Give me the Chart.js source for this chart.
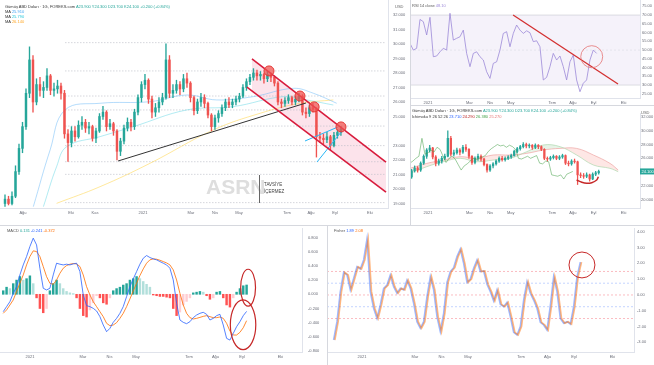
<!DOCTYPE html>
<html>
<head>
<meta charset="utf-8">
<title>Gümüş ABD Doları</title>
<script src="https://cdn.jsdelivr.net/npm/chart.js@4.4.1/dist/chart.umd.min.js"></script>
<style>
body { margin: 0; background: #fff; font-family: "Liberation Sans", Arial, sans-serif; }
#wrap { position: relative; width: 654px; height: 365px; overflow: hidden; background: #fff; }
.panel { position: absolute; overflow: hidden; }
.panel canvas { position: absolute; left: 0; top: 0; }
.leg { position: absolute; font-size: 4px; line-height: 5px; color: #333; white-space: nowrap; }
.sep { position: absolute; background: #d6d8de; }
</style>
</head>
<body>
<div id="wrap">
  <div class="panel" style="left:0;top:0;width:410px;height:225px">
    <canvas id="mainChart" width="410" height="225"></canvas>
    <div class="leg" style="left:5px;top:3.5px">Gümüş ABD Doları · 1G, FOREKS.com <span style="color:#26a69a">A23.900 Y24.300 D23.700 K24.100 +0.200 (+0.84%)</span></div>
    <div class="leg" style="left:5px;top:9px">MA <span id="maA" style="color:#42a5f5"></span></div>
    <div class="leg" style="left:5px;top:14px">MA <span id="maB" style="color:#26c6da"></span></div>
    <div class="leg" style="left:5px;top:19px">MA <span id="maC" style="color:#ffa726"></span></div>
    <div class="leg" style="left:395px;top:4px;color:#666">USD</div>
    <div class="leg" style="left:206px;top:174px;font-size:21px;line-height:26px;font-weight:bold;color:#dedede">ASRN</div>
    <div class="sep" style="left:259px;top:175px;width:1px;height:28px;background:#666"></div>
    <div class="leg" style="left:264px;top:181px;font-size:4.5px;line-height:7px;color:#444">TAVSİYE<br>İÇERMEZ</div>
  </div>
  <div class="panel" style="left:410px;top:0;width:244px;height:105px">
    <canvas id="rsiChart" width="244" height="105"></canvas>
    <div class="leg" style="left:2px;top:3px;color:#555">RSI 14 close <span style="color:#9c89d8">48.10</span></div>
  </div>
  <div class="panel" style="left:410px;top:105px;width:244px;height:120px">
    <canvas id="ichiChart" width="244" height="120"></canvas>
    <div class="leg" style="left:2px;top:3px">Gümüş ABD Doları · 1G, FOREKS.com <span style="color:#26a69a">A23.900 Y24.300 D23.700 K24.100 +0.200 (+0.84%)</span></div>
    <div class="leg" style="left:2px;top:9px">Ichimoku 9 26 52 26 <span style="color:#2962ff">23.710</span> <span style="color:#b71c1c">24.290</span> <span style="color:#43a047">26.380</span> <span style="color:#e57373">25.270</span></div>
    <div class="leg" style="left:231px;top:5px;color:#666">USD</div>
  </div>
  <div class="panel" style="left:0;top:225px;width:327px;height:140px">
    <canvas id="macdChart" width="327" height="140"></canvas>
    <div class="leg" style="left:7px;top:3px;color:#555">MACD <span style="color:#26a69a">0.131</span> <span style="color:#2962ff">-0.241</span> <span style="color:#ff6d00">-0.372</span></div>
  </div>
  <div class="panel" style="left:327px;top:225px;width:327px;height:140px">
    <canvas id="fisherChart" width="327" height="140"></canvas>
    <div class="leg" style="left:7px;top:3px;color:#555">Fisher <span style="color:#2962ff">1.89</span> <span style="color:#ff6d00">2.08</span></div>
  </div>
  <div class="sep" style="left:410px;top:0;width:1px;height:225px"></div>
  <div class="sep" style="left:0;top:225px;width:654px;height:1px"></div>
  <div class="sep" style="left:410px;top:105px;width:244px;height:1px"></div>
  <div class="sep" style="left:327px;top:225px;width:1px;height:140px"></div>
</div>
<script>
// time axis is in months counted from Jan 2020 (12 = Jan 2021)
var monthTicks = [7, 9, 10, 12, 14, 15, 16, 18, 19, 20, 21.45];
var monthNames = ['Ağu', 'Eki', 'Kas', '2021', 'Mar', 'Nis', 'May', 'Tem', 'Ağu', 'Eyl', 'Eki'];

// daily silver candles, sampled about every 3 trading days
var priceStart = 6.25;
var priceStep = 0.1458;
var opens = [19.0,19.3,19.0,19.5,21.2,22.8,24.3,26.6,28.9,26.0, 27.2,26.8,27.0,27.8,26.8,26.9,27.1,26.6,23.8,23.2,
  24.0,23.6,24.4,24.6,24.2,24.3,23.5,24.0,25.0,25.3, 24.3,24.5,24.0,22.6,23.3,24.2,24.6,24.3,25.3,26.3,
  27.2,27.5,26.2,25.3,25.6,26.0,26.3,28.9,26.6,26.8, 27.2,26.9,27.6,27.3,26.3,25.4,26.0,26.3,25.9,25.1,
  24.3,24.9,25.2,25.6,26.0,25.8,26.0,26.2,26.4,27.0, 27.4,27.7,28.0,27.8,27.9,27.6,27.9,27.7,27.3,26.0,
  25.9,26.1,26.3,26.0,26.2,26.4,25.3,25.2,25.6,25.5, 23.6,23.5,23.4,23.6,23.0,23.7,23.9];
var highs = [19.6,19.5,19.8,21.6,23.1,24.6,26.9,29.8,29.2,27.6, 27.7,27.4,28.3,27.9,27.3,27.5,27.3,26.8,24.1,24.3,
  24.3,24.7,25.0,24.8,24.6,24.4,24.2,25.2,25.7,25.4, 24.8,24.6,24.1,23.5,24.4,24.9,24.8,25.5,26.5,27.4,
  27.9,27.6,26.4,25.9,26.3,26.6,30.0,29.2,27.2,27.5, 27.4,27.9,28.0,27.4,26.4,26.2,26.6,26.5,26.0,25.2,
  25.1,25.4,25.8,26.2,26.3,26.2,26.4,26.6,27.2,27.6, 27.9,28.3,28.2,28.1,28.0,28.1,28.0,27.8,27.4,26.2,
  26.3,26.5,26.4,26.4,26.6,26.5,25.6,25.8,25.9,25.6, 23.9,23.8,23.9,23.7,23.9,24.1,24.3];
var lows = [18.8,18.9,18.9,19.4,21.0,22.5,24.1,26.3,25.3,25.8, 26.4,26.3,26.8,26.5,26.4,26.6,26.2,23.5,21.9,22.9,
  23.3,23.5,24.1,23.9,23.8,23.3,23.2,23.9,24.8,24.0, 24.1,23.7,22.0,22.3,23.1,24.0,24.0,24.1,25.1,26.0,
  26.9,25.9,24.9,25.0,25.3,25.8,26.2,26.3,26.3,26.6, 26.5,26.7,27.0,26.0,25.1,25.2,25.7,25.6,24.9,24.0,
  24.1,24.6,25.0,25.4,25.6,25.6,25.8,26.0,26.3,26.8, 27.2,27.5,27.5,27.5,27.3,27.4,27.4,27.1,25.8,25.6,
  25.7,25.9,25.8,25.8,26.0,25.1,24.9,25.0,25.3,22.2, 23.2,23.1,23.2,22.7,22.9,23.5,23.7];
var closes = [19.3,19.0,19.5,21.2,22.8,24.3,26.6,28.9,26.0,27.2, 26.8,27.0,27.8,26.8,26.9,27.1,26.6,23.8,23.2,24.0,
  23.6,24.4,24.6,24.2,24.3,23.5,24.0,25.0,25.3,24.3, 24.5,24.0,22.6,23.3,24.2,24.6,24.3,25.3,26.3,27.2,
  27.5,26.2,25.3,25.6,26.0,26.3,28.9,26.6,26.8,27.2, 26.9,27.6,27.3,26.3,25.4,26.0,26.3,25.9,25.1,24.3,
  24.9,25.2,25.6,26.0,25.8,26.0,26.2,26.4,27.0,27.4, 27.7,28.0,27.8,27.9,27.6,27.9,27.7,27.3,26.0,25.9,
  26.1,26.3,26.0,26.2,26.4,25.3,25.2,25.6,25.5,23.6, 23.5,23.4,23.6,23.0,23.7,23.9,24.1];

// moving averages, read at a few points
var maAMonths = [7.43, 8.13, 8.75, 10.21, 12.29, 13.82, 15.07, 16.6, 18.26, 19.1, 20.07];
var maAValues = [18.78, 22.69, 25.45, 25.91, 26.02, 26.48, 26.14, 26.37, 26.94, 26.6, 25.91];
var maBMonths = [7.85, 8.40, 8.82, 10.21, 11.60, 13.82, 15.76, 17.85, 18.82, 19.93];
var maBValues = [18.78, 21.54, 22.92, 23.61, 24.30, 25.45, 25.68, 26.37, 26.14, 25.79];
var maCMonths = [8.40, 10.21, 12.29, 14.93, 16.88, 18.54, 19.93];
var maCValues = [19.01, 20.16, 21.77, 24.07, 25.22, 25.91, 26.14];

// drawings on the price chart
var trendMonths = [10.96, 18.79];
var trendValues = [21.93, 25.93];
var chanUpMonths = [16.54, 22.125];
var chanUpValues = [28.97, 21.86];
var chanLowMonths = [16.33, 22.125];
var chanLowValues = [27.03, 19.79];
var wedgeUpMonths = [18.75, 20.13];
var wedgeUpValues = [23.31, 24.28];
var wedgeLowMonths = [19.25, 20.29];
var wedgeLowValues = [21.86, 24.0];
var touchMonths = [17.25, 18.54, 19.13, 20.25];
var touchValues = [28.14, 26.41, 25.66, 24.28];
var levels = [30.09, 28.14, 26.41, 25.45, 24.34, 22.99, 21.88, 21.01, 19.06];
var levelFrom = 8.75;
var levelTo = 22.08;
var priceTicks = [19, 20, 21, 22, 23, 25, 26, 27, 28, 29, 30, 31, 32];

// RSI
var rsiStart = 11.13;
var rsiStep = 0.161;
var rsiValues = [53.8, 50.0, 51.0, 67.5, 66.2, 58.6, 68.7, 46.2, 46.6, 49.0,
  51.0, 50.0, 71.0, 55.7, 56.7, 57.6, 61.4, 48.1, 40.5, 48.1,
  49.0, 46.2, 44.3, 37.6, 33.8, 42.4, 43.3, 50.0, 59.5, 60.5,
  51.9, 59.5, 64.3, 61.4, 59.5, 61.0, 59.9, 54.8, 55.3, 51.9,
  32.9, 34.4, 40.5, 48.1, 44.3, 46.6, 40.5, 32.9, 43.3, 47.1,
  32.9, 26.2, 31.0, 32.9, 44.3, 50.0, 48.1];
var rsiLineMonths = [16.11, 21.18];
var rsiLineValues = [70, 30.6];
var rsiTicks = [25, 30, 35, 40, 45, 50, 55, 60, 65, 70, 75];

// Ichimoku cloud
var ichiMonths = [11.13, 11.94, 12.74, 13.55, 14.35, 15.15, 15.96, 16.77, 17.57, 18.38, 19.18, 19.99, 20.79, 21.19];
var spanA = [23.82, 24.79, 25.51, 26.0, 25.51, 25.75, 26.0, 26.96, 27.93, 27.69, 26.48, 25.03, 24.55, 24.06];
var spanB = [24.55, 25.27, 25.75, 26.24, 26.0, 26.48, 26.48, 26.72, 27.2, 27.44, 27.44, 26.48, 25.27, 24.3];
var chikouShift = 1.25;
var arcMonths = [19.18, 19.43, 19.67, 19.91, 20.15, 20.23];
var arcValues = [22.86, 22.53, 22.38, 22.47, 22.86, 23.33];
var ichiTicks = [20, 22, 24, 26, 28, 30, 32];

// MACD
var macdStart = 10.99;
var macdStep = 0.1258;
var macdValues = [-0.245, -0.174, -0.104, 0.014, 0.108, 0.273, 0.414, 0.532, 0.673, 0.791,
  0.696, 0.367, 0.085, 0.061, 0.085, 0.273, 0.438, 0.424, 0.414, 0.424,
  0.414, 0.428, 0.438, 0.32, -0.009, -0.16, -0.174, -0.198, -0.235, -0.315,
  -0.433, -0.527, -0.48, -0.395, -0.339, -0.268, -0.174, -0.033, 0.108, 0.216,
  0.32, 0.424, 0.508, 0.546, 0.518, 0.499, 0.485, 0.461, 0.438, 0.414,
  0.367, 0.202, -0.127, -0.362, -0.395, -0.414, -0.386, -0.329, -0.292, -0.268,
  -0.254, -0.282, -0.362, -0.339, -0.301, -0.282, -0.433, -0.621, -0.645, -0.551,
  -0.456, -0.386, -0.301, -0.241];
var signalValues = [-0.268, -0.221, -0.151, -0.08, 0.038, 0.155, 0.273, 0.414, 0.532, 0.612,
  0.602, 0.532, 0.391, 0.249, 0.155, 0.141, 0.202, 0.296, 0.367, 0.405,
  0.424, 0.433, 0.428, 0.391, 0.273, 0.108, -0.009, -0.104, -0.174, -0.245,
  -0.315, -0.409, -0.442, -0.433, -0.4, -0.339, -0.268, -0.174, -0.066, 0.047,
  0.155, 0.264, 0.358, 0.438, 0.485, 0.499, 0.494, 0.48, 0.461, 0.442,
  0.414, 0.344, 0.202, 0.014, -0.151, -0.268, -0.329, -0.348, -0.339, -0.325,
  -0.311, -0.301, -0.315, -0.329, -0.329, -0.32, -0.339, -0.409, -0.518, -0.574,
  -0.574, -0.536, -0.471, -0.372];
var histValues = [0.05, 0.1, 0.08, 0.15, 0.2, 0.25, 0.2, 0.22, 0.26, 0.15,
  -0.05, -0.2, -0.26, -0.2, 0.05, 0.15, 0.2, 0.15, 0.08, 0.04,
  0.02, 0.01, -0.05, -0.2, -0.3, -0.32, -0.22, -0.12, -0.02, -0.05,
  -0.12, -0.14, -0.05, 0.05, 0.08, 0.1, 0.13, 0.15, 0.2, 0.22,
  0.25, 0.22, 0.18, 0.14, 0.1, -0.01, -0.02, -0.03, -0.03, -0.04,
  -0.05, -0.2, -0.3, -0.25, -0.15, -0.1, -0.05, 0.02, 0.03, 0.04,
  0.03, -0.02, -0.07, -0.05, 0.03, 0.04, -0.05, -0.15, -0.18, -0.05,
  0.03, 0.08, 0.12, 0.131];
var macdTicks = [-0.8, -0.6, -0.4, -0.2, 0, 0.2, 0.4, 0.6, 0.8];

// Fisher transform; trigger is the value one trading day earlier
var fisherStart = 10.93;
var fisherStep = 0.1258;
var triggerLag = 0.045;
var fisherValues = [-2.85, -1.69, 0.21, 1.43, 1.27, 0.32, 1.05, 1.79, 1.65, 2.22,
  3.54, 0.21, -0.84, -1.48, -0.63, 0.42, 0.63, 1.27, 0.53, 0.11,
  0.42, 0.32, 0.95, 0.42, -0.53, -1.69, -2.11, -1.69, -0.11, 1.16,
  0.32, -1.37, -2.32, -1.16, 0.80, 1.48, 1.73, 2.43, 2.91, 2.0,
  0.80, 1.01, 1.69, 2.22, 1.48, 1.52, 0.68, 0.21, -0.38, 0.32,
  -0.59, -0.74, -0.46, -1.37, -2.36, -2.53, -2.0, -0.32, 0.84, 0.11,
  -0.32, -0.84, -1.73, -1.9, -2.22, -0.68, 1.16, 0.21, -1.48, -1.79,
  -1.69, -1.84, -0.74, 1.16, 2.08];
var fisherLevels = [1.5, 0.75, 0, -0.75, -1.5];
var fisherTicks = [-3, -2, -1, 0, 1, 2, 3, 4];

Chart.defaults.animation = false;
Chart.defaults.font.family = '"Liberation Sans", Arial, sans-serif';
Chart.defaults.elements.point.radius = 0;
Chart.defaults.elements.line.borderWidth = 1;
Chart.defaults.plugins.legend.display = false;
Chart.defaults.plugins.tooltip.enabled = false;
Chart.defaults.layout.autoPadding = false;

var tickFont = {size: 4};
var tickColor = '#6a6d78';
var edgeColor = '#e0e3eb';
var upColor = '#26a69a';
var downColor = '#ef5350';

function pts(xs, ys) {
  return xs.map(function (x, i) { return {x: x, y: ys[i]}; });
}
function series(start, step, vals, lag) {
  return vals.map(function (v, i) { return {x: start + i * step + (lag || 0), y: v}; });
}
function flat(v, from, to) {
  return [{x: from, y: v}, {x: to, y: v}];
}
function line(data, color, width, extra) {
  var d = {type: 'line', data: data, borderColor: color, borderWidth: width, fill: false, tension: 0};
  for (var k in extra) d[k] = extra[k];
  return d;
}

function monthAxis(min, max, height) {
  return {
    type: 'linear', min: min, max: max, offset: false,
    grid: {display: false, drawTicks: false}, border: {display: true, color: edgeColor},
    afterBuildTicks: function (s) {
      s.ticks = monthTicks.filter(function (v) { return v >= min && v <= max; }).map(function (v) { return {value: v}; });
    },
    afterFit: function (s) { s.height = height; s.paddingLeft = 0; s.paddingRight = 0; },
    ticks: {autoSkip: false, maxRotation: 0, font: tickFont, color: tickColor, padding: 2,
      callback: function (v) { return monthNames[monthTicks.indexOf(v)]; }}
  };
}
function valueAxis(min, max, values, dec, width, pad) {
  return {
    type: 'linear', position: 'right', min: min, max: max,
    grid: {display: false, drawTicks: false}, border: {display: true, color: edgeColor},
    afterBuildTicks: function (s) { s.ticks = values.map(function (v) { return {value: v}; }); },
    afterFit: function (s) { s.width = width; s.paddingTop = 0; s.paddingBottom = 0; },
    ticks: {autoSkip: false, font: tickFont, color: tickColor, padding: pad,
      callback: function (v) { return v.toFixed(dec); }}
  };
}

function candleSets(minX, bodyW, wickW, order) {
  var wicks = [], bodies = [], cols = [];
  for (var i = 0; i < closes.length; i++) {
    var x = priceStart + i * priceStep;
    if (x < minX) continue;
    wicks.push({x: x, y: [lows[i], highs[i]]});
    bodies.push({x: x, y: [opens[i], closes[i]]});
    cols.push(closes[i] >= opens[i] ? upColor : downColor);
  }
  return [
    {type: 'bar', data: wicks, backgroundColor: cols, barThickness: wickW, grouped: false, order: order},
    {type: 'bar', data: bodies, backgroundColor: cols, barThickness: bodyW, grouped: false, minBarLength: 0.6, order: order}
  ];
}

// ellipses and circles drawn in data units
var shapePlugin = {
  id: 'shapes',
  afterDatasetsDraw: function (chart, args, opts) {
    var xs = chart.scales.x, ys = chart.scales.y, ctx = chart.ctx;
    (opts.items || []).forEach(function (it) {
      var cx = xs.getPixelForValue(it.x), cy = ys.getPixelForValue(it.y);
      var rx = Math.abs(xs.getPixelForValue(it.x + it.rx) - cx);
      var ry = Math.abs(ys.getPixelForValue(it.y + it.ry) - cy);
      ctx.save();
      ctx.beginPath();
      ctx.ellipse(cx, cy, rx, ry, 0, 0, Math.PI * 2);
      ctx.strokeStyle = it.color;
      ctx.lineWidth = it.width;
      ctx.stroke();
      ctx.restore();
    });
  }
};
var badgePlugin = {
  id: 'badge',
  afterDraw: function (chart, args, opts) {
    if (opts.value === undefined) return;
    var ctx = chart.ctx, a = chart.chartArea;
    var y = chart.scales.y.getPixelForValue(opts.value);
    ctx.save();
    ctx.fillStyle = opts.color;
    ctx.fillRect(a.right, y - 3, 14, 6);
    ctx.fillStyle = '#fff';
    ctx.font = '4px "Liberation Sans", Arial';
    ctx.textBaseline = 'middle';
    ctx.fillText(opts.value.toFixed(3), a.right + 1.5, y + 0.3);
    ctx.restore();
  }
};

document.getElementById('maA').textContent = maAValues[maAValues.length - 1].toFixed(3);
document.getElementById('maB').textContent = maBValues[maBValues.length - 1].toFixed(3);
document.getElementById('maC').textContent = maCValues[maCValues.length - 1].toFixed(3);

// ---- price chart ----
var mainSets = [
  line(pts(touchMonths, touchValues), '#e53935', 1, {showLine: false, pointRadius: 5,
    pointBackgroundColor: 'rgba(239,83,80,0.75)', pointBorderColor: '#e53935', pointBorderWidth: 1, order: 0}),
  line(pts(chanUpMonths, chanUpValues), '#d81b3c', 1.6, {fill: '+1', backgroundColor: 'rgba(240,98,146,0.18)', order: 1}),
  line(pts(chanLowMonths, chanLowValues), '#d81b3c', 1.6, {order: 1}),
  line(pts(trendMonths, trendValues), '#333', 1, {order: 1}),
  line(pts(wedgeUpMonths, wedgeUpValues), '#29b6f6', 1, {order: 1}),
  line(pts(wedgeLowMonths, wedgeLowValues), '#29b6f6', 1, {order: 1})
].concat(candleSets(0, 1.8, 0.7, 3)).concat([
  line(pts(maAMonths, maAValues), 'rgba(100,181,246,0.6)', 0.8, {tension: 0.4, order: 4}),
  line(pts(maBMonths, maBValues), 'rgba(77,208,225,0.55)', 0.8, {tension: 0.4, order: 4}),
  line(pts(maCMonths, maCValues), 'rgba(255,213,79,0.7)', 0.8, {tension: 0.4, order: 4})
]).concat(levels.map(function (v) {
  return line(flat(v, levelFrom, levelTo), '#b8bbc4', 0.6, {borderDash: [1.5, 1.5], order: 6});
}));

new Chart(document.getElementById('mainChart'), {
  type: 'bar',
  data: {datasets: mainSets},
  options: {
    responsive: false,
    layout: {padding: 0},
    plugins: {filler: {drawTime: 'beforeDatasetsDraw'}},
    scales: {x: monthAxis(6.0417, 22.208, 17), y: valueAxis(18.69, 33.03, priceTicks, 3, 22, 5)}
  }
});

// ---- RSI ----
new Chart(document.getElementById('rsiChart'), {
  type: 'line',
  data: {datasets: [
    line(series(rsiStart, rsiStep, rsiValues), '#9c89d8', 0.8, {order: 1}),
    line(pts(rsiLineMonths, rsiLineValues), '#d32f2f', 1.3, {order: 0}),
    line(flat(70, 11.13, 22.242), '#c5c7cf', 0.6, {fill: '+1', backgroundColor: 'rgba(126,87,194,0.08)', order: 2}),
    line(flat(30, 11.13, 22.242), '#c5c7cf', 0.6, {order: 2}),
    line(flat(50, 11.13, 22.242), '#d5d7dd', 0.5, {borderDash: [2, 2], order: 2})
  ]},
  options: {
    responsive: false,
    layout: {padding: 0},
    plugins: {filler: {drawTime: 'beforeDatasetsDraw'},
      shapes: {items: [{x: 19.91, y: 46.2, rx: 0.53, ry: 6.3, color: '#e57373', width: 0.8}]}},
    scales: {x: monthAxis(11.13, 22.242, 7), y: valueAxis(22.6, 78.6, rsiTicks, 2, 14, 2)}
  },
  plugins: [shapePlugin]
});

// ---- Ichimoku ----
var chikou = closes.map(function (c, i) { return {x: priceStart + i * priceStep - chikouShift, y: c}; });
new Chart(document.getElementById('ichiChart'), {
  type: 'bar',
  data: {datasets: [
    line(pts(arcMonths, arcValues), '#c62828', 1.5, {tension: 0.4, order: 0}),
    line(chikou, 'rgba(67,160,71,0.75)', 0.7, {order: 1})
  ].concat(candleSets(11.13, 1.6, 0.6, 2)).concat([
    line(pts(ichiMonths, spanA), 'rgba(165,214,167,0.9)', 0.7,
      {tension: 0.4, fill: {target: '+1', above: 'rgba(67,160,71,0.13)', below: 'rgba(244,67,54,0.13)'}, order: 3}),
    line(pts(ichiMonths, spanB), 'rgba(239,154,154,0.9)', 0.7, {tension: 0.4, order: 3})
  ])},
  options: {
    responsive: false,
    layout: {padding: {top: 8}},
    plugins: {filler: {drawTime: 'beforeDatasetsDraw'},
      badge: {value: closes[closes.length - 1], color: '#26a69a'}},
    scales: {x: monthAxis(11.13, 22.242, 17), y: valueAxis(18.8, 32.57, ichiTicks, 3, 14, 1)}
  },
  plugins: [badgePlugin]
});

// ---- MACD ----
var histColors = histValues.map(function (v, i) {
  var prev = i > 0 ? histValues[i - 1] : v;
  if (v >= 0) return v >= prev ? '#26a69a' : '#b2dfdb';
  return v <= prev ? '#ff5252' : '#ffcdd2';
});
new Chart(document.getElementById('macdChart'), {
  type: 'bar',
  data: {datasets: [
    line(series(macdStart, macdStep, macdValues), '#2962ff', 0.8, {order: 0}),
    line(series(macdStart, macdStep, signalValues), '#ff6d00', 0.8, {order: 1}),
    {type: 'bar', data: series(macdStart, macdStep, histValues), backgroundColor: histColors, barThickness: 1.8, order: 2}
  ]},
  options: {
    responsive: false,
    layout: {padding: {top: 3}},
    plugins: {shapes: {items: [
      {x: 20.23, y: 0.093, rx: 0.28, ry: 0.26, color: '#c62828', width: 1.2},
      {x: 20.04, y: -0.43, rx: 0.48, ry: 0.35, color: '#c62828', width: 1.2}
    ]}},
    scales: {x: monthAxis(10.868, 22.264, 13), y: valueAxis(-0.813, 0.934, macdTicks, 3, 25, 6)}
  },
  plugins: [shapePlugin]
});

// ---- Fisher ----
var fisherSets = [
  line(series(fisherStart, fisherStep, fisherValues), 'rgba(41,98,255,0.45)', 1.6, {order: 1}),
  line(series(fisherStart, fisherStep, fisherValues, triggerLag), 'rgba(255,109,0,0.5)', 1.6, {order: 0})
].concat(fisherLevels.map(function (v) {
  var c = (v === 0.75 || v === -0.75) ? 'rgba(41,98,255,0.45)' : 'rgba(242,54,69,0.55)';
  return line(flat(v, 10.679, 22.264), c, 0.6, {borderDash: [2, 2], order: 2});
}));
new Chart(document.getElementById('fisherChart'), {
  type: 'line',
  data: {datasets: fisherSets},
  options: {
    responsive: false,
    layout: {padding: {top: 3}},
    plugins: {shapes: {items: [{x: 20.30, y: 1.9, rx: 0.49, ry: 0.82, color: '#c62828', width: 1}]}},
    scales: {x: monthAxis(10.679, 22.264, 13), y: valueAxis(-3.61, 4.24, fisherTicks, 2, 20, 3)}
  },
  plugins: [shapePlugin]
});
</script>
</body>
</html>
